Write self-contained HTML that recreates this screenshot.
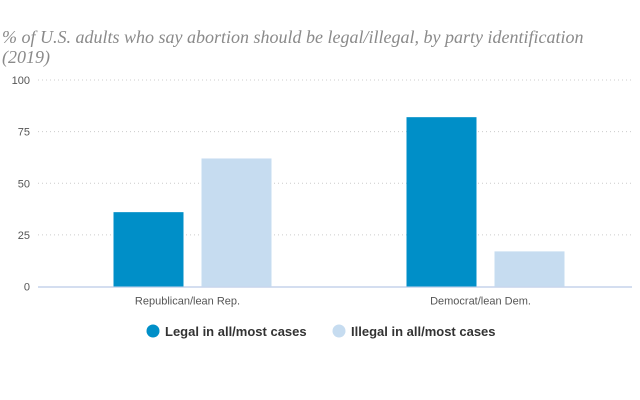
<!DOCTYPE html>
<html><head><meta charset="utf-8"><style>
body{margin:0;background:#fff;width:640px;height:400px;overflow:hidden;font-family:"Liberation Sans",sans-serif}
.title{position:absolute;left:2px;top:27px;width:590px;font:italic 18px/20px "Liberation Serif",serif;color:#8a8a8a}
</style></head><body>
<div class="title">% of U.S. adults who say abortion should be legal/illegal, by party identification (2019)</div>
<svg id="c" width="640" height="400" style="position:absolute;left:0;top:0"></svg>
<script>
const categories=["Republican/lean Rep.","Democrat/lean Dem."];
const legalValues=[36,82];
const illegalValues=[62,17];
const seriesNames=["Legal in all/most cases","Illegal in all/most cases"];
const ticks=[0,25,50,75,100];
const colors=["#008fc8","#c6dcf0"];
const svg=document.getElementById('c');const NS="http://www.w3.org/2000/svg";
const x0=46,x1=632,yb=286.5,yt=80;
const y=v=>yb-(yb-yt)*v/100;
const band=(x1-x0)/categories.length;
function mk(t,a){const e=document.createElementNS(NS,t);for(const k in a)e.setAttribute(k,a[k]);svg.appendChild(e);return e;}
ticks.forEach(t=>{
  if(t>0){const l=mk('line',{x1:38,x2:632,y1:y(t),y2:y(t),stroke:'#ccc','stroke-dasharray':'1,3'});
  
  }
  const tx=mk('text',{x:30,y:y(t)+4,'text-anchor':'end','font-size':'11','fill':'#555'});tx.textContent=t;
  
  
});
const ax=mk('line',{x1:38,x2:632,y1:yb+0.5,y2:yb+0.5,stroke:'#c6d4ec','stroke-width':1.5});


const series=[legalValues,illegalValues];
categories.forEach((c,i)=>{
  const cx=x0+band*(i+0.5);
  series.forEach((s,j)=>{
    const bx=cx-79+j*88;
    const r=mk('rect',{x:bx,y:y(s[i]),width:70,height:yb-y(s[i]),fill:colors[j]});
    
    
  });
  const t=mk('text',{x:cx-5,y:yb+18,'text-anchor':'middle','font-size':'11','fill':'#555'});t.textContent=c;
  
  
});
const lx=[153,339];
seriesNames.forEach((n,j)=>{
  const ci=mk('circle',{cx:lx[j],cy:331,r:6.5,fill:colors[j]});
  
  
  const t=mk('text',{x:lx[j]+12,y:336,'font-size':'13','font-weight':'bold','fill':'#333'});t.textContent=n;
  
  
});
</script>
</body></html>
